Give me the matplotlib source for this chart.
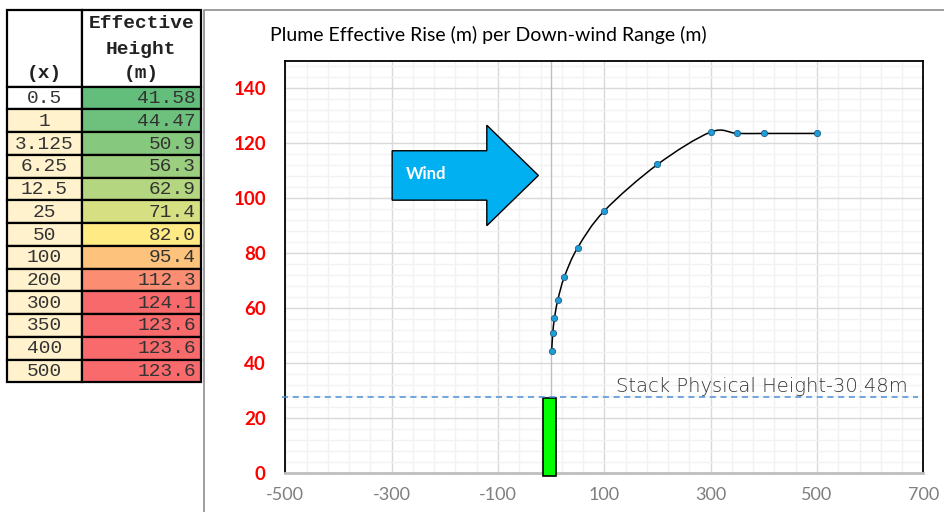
import matplotlib
matplotlib.use('Agg')
import matplotlib.pyplot as plt
import numpy as np
from matplotlib.patches import Rectangle, FancyArrow, PathPatch
from matplotlib.path import Path
from matplotlib.colors import LinearSegmentedColormap
from matplotlib.lines import Line2D

plt.rcParams['axes.unicode_minus'] = False

# table data
x_labels = ['0.5', '1', '3.125', '6.25', '12.5', '25', '50', '100', '200', '300', '350', '400', '500']
eff_height = [41.58, 44.47, 50.9, 56.3, 62.9, 71.4, 82.0, 95.4, 112.3, 124.1, 123.6, 123.6, 123.6]
eff_labels = ['41.58', '44.47', '50.9', '56.3', '62.9', '71.4', '82.0', '95.4', '112.3', '124.1', '123.6', '123.6', '123.6']

# chart series (starts at x = 1)
plot_x = [float(v) for v in x_labels[1:]]
plot_y = eff_height[1:]

# stack
stack_x = -3
stack_w = 23
stack_bottom = -1.2
stack_top = 27.3
stack_line = 27.7
stack_label = 'Stack Physical Height-30.48m'

W, H = 944, 512
fig = plt.figure(figsize=(W / 100, H / 100), dpi=100)

# ---------- table on the left (pixel coords) ----------
tax = fig.add_axes([0, 0, 1, 1])
tax.set_xlim(0, W)
tax.set_ylim(H, 0)
tax.axis('off')

col_edges = [7.3, 81.7, 201]
top, head_bot, row_h = 10, 86.7, 22.74
mono = 'Liberation Mono'

cmap = LinearSegmentedColormap.from_list('cs', ['#63BE7B', '#FFEB84', '#F8696B'])
lo, mid, hi = min(eff_height), float(np.median(eff_height)), max(eff_height)

def scale_color(v):
    if v <= mid:
        t = 0.5 * (v - lo) / (mid - lo)
    else:
        t = 0.5 + 0.5 * (v - mid) / (hi - mid)
    return cmap(t)

# header
for j in range(2):
    tax.add_patch(Rectangle((col_edges[j], top), col_edges[j + 1] - col_edges[j], head_bot - top,
                            fc='white', ec='black', lw=1.6))
c1 = (col_edges[0] + col_edges[1]) / 2
c2 = (col_edges[1] + col_edges[2]) / 2
for txt, yy in [('Effective', 24), ('Height', 49), ('(m)', 74)]:
    tax.text(c2, yy, txt, family=mono, weight='bold', fontsize=14, ha='center', va='center', color='#222222')
tax.text(c1, 74, '(x)', family=mono, weight='bold', fontsize=14, ha='center', va='center', color='#222222')

for i, (xl, v, vl) in enumerate(zip(x_labels, eff_height, eff_labels)):
    y0 = head_bot + i * row_h
    fc1 = 'white' if i == 0 else '#FFF2CC'
    tax.add_patch(Rectangle((col_edges[0], y0), col_edges[1] - col_edges[0], row_h, fc=fc1, ec='black', lw=1.6))
    tax.add_patch(Rectangle((col_edges[1], y0), col_edges[2] - col_edges[1], row_h, fc=scale_color(v), ec='black', lw=1.6))
    tax.text(c1, y0 + row_h / 2 + 0.5, xl, family=mono, fontsize=14, ha='center', va='center', color='#333333')
    tax.text(col_edges[2] - 5, y0 + row_h / 2 + 0.5, vl, family=mono, fontsize=14, ha='right', va='center', color='#333333')

# chart area border
fig.add_artist(Line2D([204 / W, 204 / W, 1], [0, 1 - 10 / H, 1 - 10 / H], color='#8C8C8C', lw=1.2))

# ---------- chart ----------
ax = fig.add_axes([285.3 / W, 1 - 472.7 / H, 638 / W, 411.7 / H])
ax.set_xlim(-500, 700)
ax.set_ylim(0, 150)
ax.set_xticks(np.arange(-500, 701, 200))
ax.set_xticks(np.arange(-500, 701, 40), minor=True)
ax.set_yticks(np.arange(0, 141, 20))
ax.set_yticks(np.arange(0, 151, 4), minor=True)
ax.set_axisbelow(True)
ax.grid(which='minor', color='#F2F2F2', lw=1)
ax.grid(which='major', color='#D9D9D9', lw=1)
ax.tick_params(which='both', length=0)
ax.tick_params(axis='y', pad=14, labelsize=13.5, labelcolor='red')
ax.tick_params(axis='x', pad=10, labelsize=13, labelcolor='#7F7F7F')
for lab in ax.get_yticklabels():
    lab.set_fontweight('bold')
    lab.set_family('Lato')
for lab in ax.get_xticklabels():
    lab.set_family('Lato')
for s in ['left', 'top', 'right']:
    ax.spines[s].set_color('black')
    ax.spines[s].set_linewidth(1.3)
ax.spines['bottom'].set_color('#BFBFBF')
ax.spines['bottom'].set_linewidth(2)

ax.axvline(0, color='#BFBFBF', lw=1, zorder=1.5)

# stack
ax.bar(stack_x, stack_top - stack_bottom, bottom=stack_bottom, width=stack_w,
       color='#00FF00', edgecolor='black', lw=1.2, clip_on=False, zorder=3)
ax.axhline(stack_line, xmin=-0.005, xmax=0.992, color='#4A90D9', lw=1.1, ls=(0, (4, 3)),
           clip_on=False, zorder=3)
ax.text(122, 29.5, stack_label, family='DejaVu Sans', weight='light', fontsize=14,
        color='#333333', va='baseline', ha='left')

# wind arrow
ax.add_patch(FancyArrow(-299, 108.3, 275, 0, width=18, head_width=36.6, head_length=97,
                        length_includes_head=True, fc='#00B0F0', ec='black', lw=1, zorder=3))
ax.text(-273, 108.8, 'Wind', color='white', family='Lato', weight='bold', fontsize=12,
        va='center', ha='left', zorder=4)

# smooth line (Catmull-Rom as bezier)
def smooth_path(xs, ys):
    pts = np.column_stack([xs, ys])
    n = len(pts)
    verts = [pts[0]]
    codes = [Path.MOVETO]
    for i in range(n - 1):
        p0 = pts[max(i - 1, 0)]
        p1 = pts[i]
        p2 = pts[i + 1]
        p3 = pts[min(i + 2, n - 1)]
        verts += [p1 + (p2 - p0) / 6, p2 - (p3 - p1) / 6, p2]
        codes += [Path.CURVE4] * 3
    return Path(verts, codes)

ax.add_patch(PathPatch(smooth_path(plot_x, plot_y), fill=False, ec='black', lw=1.1, zorder=4))
ax.plot(plot_x, plot_y, 'o', ms=4.5, mfc='#1E9ED8', mec='#1F5E85', mew=0.6, zorder=5)

fig.text(488 / W, 1 - 35 / H, 'Plume Effective Rise (m) per Down-wind Range (m)',
         family='Lato', fontsize=14, ha='center', va='center', color='black')

fig.savefig('out.png', dpi=100)
